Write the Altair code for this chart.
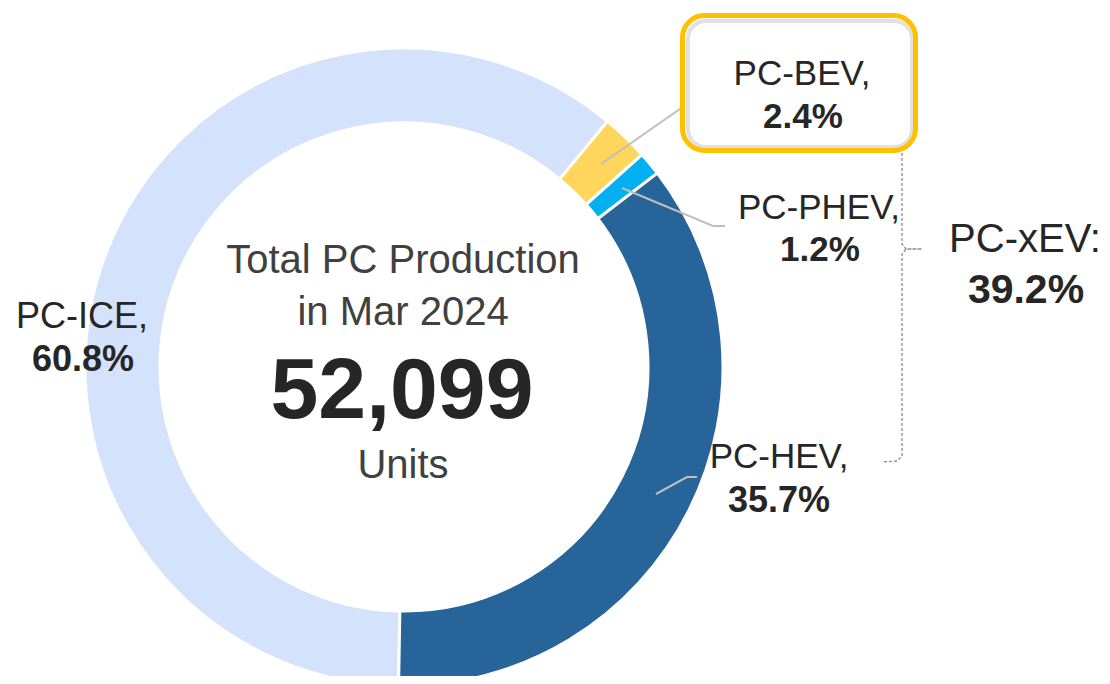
import math
import altair as alt
import pandas as pd

# ---------------- data ----------------
categories = ["PC-ICE", "PC-BEV", "PC-PHEV", "PC-HEV"]
shares = [60.8, 2.4, 1.2, 35.7]
name_labels = ["PC-ICE,", "PC-BEV,", "PC-PHEV,", "PC-HEV,"]
pct_labels = ["60.8%", "2.4%", "1.2%", "35.7%"]
xev_name = "PC-xEV:"
xev_pct = "39.2%"
center_lines = ["Total PC Production", "in Mar 2024"]
total_units = 52099
units_label = "Units"

# ---------------- styles / layout ----------------
colors = ["#D5E2FC", "#FFD65B", "#00B0F0", "#26649A"]
FONT = "Liberation Sans"
M = 8  # page margin
W, H = 1094, 668
CX, CY = 404 - M, 367 - M
R_OUT, R_IN = 319, 244
START = math.pi + 0.017

def px(v):
    return v - M

# label anchor positions (image coordinates, baseline)
name_pos = [(82, 328), (802, 85), (819, 219), (779, 468)]
pct_pos = [(83, 371), (803, 128), (820, 261), (779, 512)]
xev_name_pos = (1025, 252)
xev_pct_pos = (1026, 303)

leader_lines = [
    [(601, 164), (703, 93), (713, 93)],
    [(622, 188), (713, 226), (725, 226)],
    [(656, 494), (687, 477), (697, 477)],
]
bracket = [(882, 34), (897, 35), (902, 40), (902, 244), (906, 249), (922, 249),
           (906, 249), (902, 254), (902, 456), (897, 461), (882, 462)]
box = (682.5, 15.5, 915.5, 150.5)
shadow_box = (688, 21, 912, 147)

# ---------------- donut ----------------
donut_df = pd.DataFrame({"cat": categories, "value": shares, "idx": list(range(len(categories)))})
donut = alt.Chart(donut_df).mark_arc(
    innerRadius=R_IN, outerRadius=R_OUT, stroke="white", strokeWidth=3
).encode(
    theta=alt.Theta("value:Q", stack=True, scale=alt.Scale(range=[START, START + 2 * math.pi])),
    color=alt.Color("cat:N", scale=alt.Scale(domain=categories, range=colors), legend=None),
    order=alt.Order("idx:Q"),
    x=alt.value(CX),
    y=alt.value(CY),
)

def xy():
    return dict(
        x=alt.X("x:Q", scale=None, axis=None),
        y=alt.Y("y:Q", scale=None, axis=None),
    )

# ---------------- leader lines ----------------
rows = []
for g, pts in enumerate(leader_lines):
    for i, (x, y) in enumerate(pts):
        rows.append({"g": g, "i": i, "x": px(x), "y": px(y)})
leaders = alt.Chart(pd.DataFrame(rows)).mark_line(
    color="#BFBFBF", strokeWidth=2
).encode(detail="g:N", order="i:Q", **xy())

# ---------------- bracket ----------------
brows = [{"i": i, "x": px(x), "y": px(y)} for i, (x, y) in enumerate(bracket)]
brk = alt.Chart(pd.DataFrame(brows)).mark_line(
    color="#8C8C8C", strokeWidth=1.3, strokeDash=[3, 2]
).encode(order="i:Q", **xy())

# ---------------- highlight box ----------------
def rect_df(b):
    return pd.DataFrame({"x": [px(b[0])], "y": [px(b[1])], "x2": [px(b[2])], "y2": [px(b[3])]})

rect_enc = dict(
    x=alt.X("x:Q", scale=None, axis=None), x2="x2:Q",
    y=alt.Y("y:Q", scale=None, axis=None), y2="y2:Q",
)
box_fill = alt.Chart(rect_df(box)).mark_rect(
    cornerRadius=22, fill="white", strokeWidth=0
).encode(**rect_enc)
box_shadow = alt.Chart(rect_df(shadow_box)).mark_rect(
    cornerRadius=18, fill="transparent", stroke="#D9D9D9", strokeWidth=4, strokeOpacity=0.8
).encode(**rect_enc)
box_rect = alt.Chart(rect_df(box)).mark_rect(
    cornerRadius=22, fill="transparent", stroke="#FFC000", strokeWidth=5
).encode(**rect_enc)

# ---------------- labels ----------------
names_df = pd.DataFrame({
    "text": name_labels + [xev_name],
    "x": [px(p[0]) for p in name_pos] + [px(xev_name_pos[0])],
    "y": [px(p[1]) for p in name_pos] + [px(xev_name_pos[1])],
    "size": [36, 35, 35, 35, 40],
})
names = alt.Chart(names_df).mark_text(
    font=FONT, color="#262626", align="center", baseline="alphabetic"
).encode(text="text:N", size=alt.Size("size:Q", scale=None, legend=None), **xy())

pcts_df = pd.DataFrame({
    "text": pct_labels + [xev_pct],
    "x": [px(p[0]) for p in pct_pos] + [px(xev_pct_pos[0])],
    "y": [px(p[1]) for p in pct_pos] + [px(xev_pct_pos[1])],
    "size": [36, 35, 35, 36, 41],
})
pcts = alt.Chart(pcts_df).mark_text(
    font=FONT, color="#262626", fontWeight="bold", align="center", baseline="alphabetic"
).encode(text="text:N", size=alt.Size("size:Q", scale=None, legend=None), **xy())

# ---------------- centre text ----------------
center_df = pd.DataFrame({
    "text": center_lines + [units_label],
    "x": [px(403)] * 3,
    "y": [px(273), px(325), px(478)],
})
center_txt = alt.Chart(center_df).mark_text(
    font=FONT, fontSize=40, color="#404040", align="center", baseline="alphabetic"
).encode(text="text:N", **xy())

total_df = pd.DataFrame({"text": [f"{total_units:,}"], "x": [px(402)], "y": [px(418)]})
total_txt = alt.Chart(total_df).mark_text(
    font=FONT, fontSize=86, fontWeight="bold", color="#262626", align="center", baseline="alphabetic"
).encode(text="text:N", **xy())

chart = alt.layer(
    donut, leaders, brk, box_fill, box_shadow, box_rect, names, pcts, center_txt, total_txt
).properties(
    width=W, height=H, autosize=alt.AutoSizeParams(type="none"), padding=0
).configure_view(stroke=None)

chart.save("out.html", embed_options={"renderer": "svg", "actions": False})
